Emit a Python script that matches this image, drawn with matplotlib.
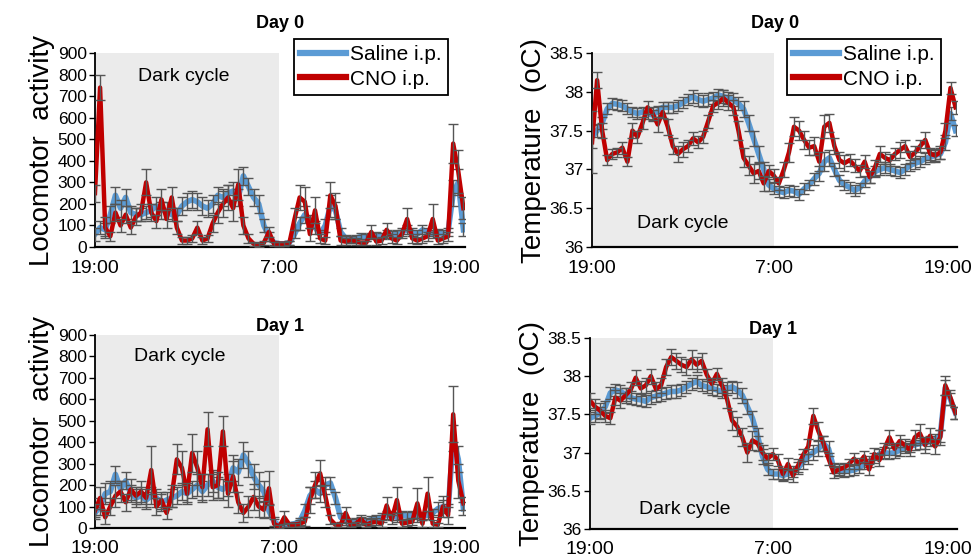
import numpy as np
import matplotlib
matplotlib.use("Agg")
import matplotlib.pyplot as plt

plt.rcParams['font.family'] = ['Liberation Sans', 'DejaVu Sans']

# time axis: 20-min bins from 19:00 to 19:00 next day (hours since 19:00)
hours = np.arange(73) / 3.0
tick_pos = [0, 12, 23.5]
tick_labels = ["19:00", "7:00", "19:00"]

# ---- Day 0 locomotor activity ----
loco0_cno = [250, 740, 90, 50, 160, 100, 150, 90, 140, 160, 300, 160,
             120, 220, 130, 230, 90, 30, 30, 40, 90, 30, 40, 110,
             160, 200, 230, 180, 290, 100, 40, 15, 10, 20, 70, 15,
             15, 15, 20, 130, 230, 210, 60, 170, 40, 30, 240, 190,
             30, 25, 35, 25, 20, 20, 70, 25, 30, 80, 40, 30,
             60, 130, 40, 30, 40, 50, 130, 30, 40, 50, 480, 350,
             180]
loco0_cno_err = [40, 60, 50, 20, 40, 30, 40, 30, 40, 40, 60, 40,
                 30, 50, 40, 50, 30, 15, 15, 15, 30, 15, 15, 40,
                 50, 60, 60, 60, 70, 40, 20, 10, 10, 10, 25, 10,
                 10, 10, 10, 50, 60, 70, 30, 60, 20, 15, 60, 60,
                 20, 15, 15, 15, 10, 10, 30, 15, 15, 30, 20, 15,
                 20, 50, 20, 15, 20, 20, 70, 15, 20, 20, 90, 100,
                 50]
loco0_sal = [60, 90, 80, 150, 240, 180, 230, 160, 150, 150, 160, 170,
             190, 170, 170, 150, 150, 190, 210, 220, 210, 190, 180, 200,
             240, 230, 250, 260, 230, 330, 280, 230, 200, 100, 50, 20,
             15, 15, 20, 60, 110, 150, 120, 90, 60, 100, 190, 170,
             70, 40, 35, 40, 50, 45, 50, 55, 50, 60, 55, 60,
             70, 80, 70, 60, 80, 70, 60, 65, 60, 70, 250, 300,
             80]
loco0_sal_err = [30, 30, 30, 40, 40, 40, 40, 30, 30, 30, 30, 30,
                 40, 40, 40, 30, 30, 40, 40, 40, 40, 40, 40, 40,
                 40, 40, 40, 40, 40, 40, 40, 40, 40, 30, 20, 10,
                 10, 10, 10, 20, 30, 40, 30, 30, 20, 30, 50, 40,
                 20, 15, 15, 15, 15, 15, 15, 15, 15, 20, 20, 20,
                 20, 20, 20, 20, 20, 20, 20, 20, 20, 20, 60, 60,
                 30]

# ---- Day 0 temperature ----
temp0_cno = [37.35, 38.15, 37.5, 37.12, 37.2, 37.22, 37.28, 37.1, 37.5, 37.42, 37.6, 37.8,
             37.72, 37.58, 37.74, 37.55, 37.3, 37.2, 37.26, 37.3, 37.4, 37.35, 37.42, 37.62,
             37.82, 37.86, 37.92, 37.86, 37.8, 37.5, 37.15, 37.05, 36.95, 36.98, 36.82, 36.98,
             36.92, 36.82, 37.0, 37.22, 37.55, 37.5, 37.38, 37.28, 37.3, 37.1, 37.55, 37.6,
             37.3, 37.12, 37.08, 37.12, 37.05, 36.98, 37.1, 36.9, 37.02, 37.2, 37.15, 37.12,
             37.2, 37.25, 37.3, 37.16, 37.22, 37.3, 37.38, 37.2, 37.18, 37.22, 37.5, 38.05,
             37.8]
temp0_cno_err = [0.4, 0.1, 0.1, 0.06, 0.06, 0.06, 0.08, 0.06, 0.1, 0.08, 0.08, 0.08,
                 0.08, 0.1, 0.08, 0.1, 0.1, 0.1, 0.1, 0.08, 0.08, 0.08, 0.08, 0.08,
                 0.08, 0.08, 0.1, 0.1, 0.1, 0.12, 0.12, 0.12, 0.12, 0.1, 0.1, 0.08,
                 0.08, 0.08, 0.1, 0.12, 0.12, 0.12, 0.12, 0.1, 0.12, 0.12, 0.15, 0.12,
                 0.1, 0.1, 0.1, 0.08, 0.08, 0.08, 0.08, 0.08, 0.1, 0.1, 0.08, 0.08,
                 0.08, 0.1, 0.08, 0.08, 0.08, 0.08, 0.1, 0.08, 0.08, 0.08, 0.1, 0.08,
                 0.08]
temp0_sal = [37.42, 37.5, 37.6, 37.78, 37.85, 37.84, 37.82, 37.78, 37.74, 37.72, 37.74, 37.72,
             37.7, 37.75, 37.8, 37.8, 37.8, 37.82, 37.86, 37.9, 37.94, 37.9, 37.88, 37.9,
             37.92, 37.96, 37.94, 37.92, 37.9, 37.85, 37.78, 37.6, 37.4, 37.2, 37.0, 36.8,
             36.75, 36.72, 36.7, 36.73, 36.72, 36.68, 36.75, 36.8, 36.88, 36.95, 37.1, 37.15,
             37.0, 36.86, 36.8, 36.77, 36.73, 36.76, 36.85, 36.9, 36.97, 37.0, 37.02, 37.0,
             36.98, 36.96, 37.0, 37.05, 37.08, 37.1, 37.14, 37.16, 37.18, 37.2, 37.35, 37.72,
             37.5]
temp0_sal_err = [0.15, 0.08, 0.08, 0.07, 0.07, 0.07, 0.07, 0.07, 0.07, 0.07, 0.07, 0.07,
                 0.07, 0.07, 0.07, 0.07, 0.07, 0.07, 0.07, 0.07, 0.08, 0.08, 0.08, 0.08,
                 0.08, 0.08, 0.08, 0.08, 0.08, 0.08, 0.1, 0.1, 0.1, 0.1, 0.1, 0.08,
                 0.07, 0.07, 0.07, 0.07, 0.07, 0.07, 0.07, 0.07, 0.08, 0.1, 0.12, 0.1,
                 0.08, 0.07, 0.07, 0.07, 0.07, 0.07, 0.07, 0.07, 0.07, 0.07, 0.07, 0.07,
                 0.07, 0.07, 0.07, 0.07, 0.07, 0.07, 0.07, 0.07, 0.07, 0.07, 0.1, 0.08,
                 0.07]

# ---- Day 1 locomotor activity ----
loco1_cno = [80, 140, 50, 100, 150, 170, 120, 180, 150, 170, 140, 270,
             100, 130, 70, 150, 320, 280, 160, 350, 280, 190, 460, 190,
             200, 450, 160, 240, 120, 70, 100, 145, 100, 85, 185, 20,
             5, 50, 15, 15, 20, 30, 130, 200, 255, 150, 40, 15,
             15, 70, 15, 20, 40, 15, 25, 30, 20, 105, 40, 130,
             20, 25, 30, 115, 20, 160, 20, 15, 100, 60, 530, 220,
             115]
loco1_cno_err = [30, 50, 30, 40, 50, 50, 40, 50, 40, 50, 40, 110,
                 40, 40, 30, 50, 70, 80, 50, 90, 80, 60, 80, 60,
                 60, 70, 60, 70, 50, 40, 50, 60, 50, 40, 80, 20,
                 10, 30, 10, 10, 15, 20, 60, 60, 60, 50, 20, 10,
                 10, 30, 10, 10, 20, 10, 15, 15, 15, 40, 20, 60,
                 15, 15, 15, 70, 15, 80, 15, 10, 50, 40, 130, 80,
                 30]
loco1_sal = [70, 100, 160, 170, 250, 180, 220, 160, 140, 150, 130, 150,
             140, 120, 130, 140, 150, 170, 160, 180, 200, 170, 200, 220,
             190, 180, 200, 280, 260, 340, 300, 240, 200, 170, 80, 30,
             10, 15, 15, 20, 30, 80, 150, 180, 160, 200, 210, 140,
             50, 30, 25, 30, 35, 30, 40, 45, 50, 60, 55, 50,
             60, 55, 60, 50, 55, 60, 70, 90, 100, 80, 420, 320,
             90]
loco1_sal_err = [30, 40, 50, 50, 40, 40, 40, 40, 40, 40, 40, 40,
                 40, 40, 40, 40, 40, 40, 40, 40, 50, 50, 50, 50,
                 50, 50, 50, 60, 60, 60, 60, 60, 60, 50, 30, 20,
                 10, 10, 10, 10, 15, 30, 40, 40, 40, 40, 30, 30,
                 20, 15, 15, 15, 15, 15, 15, 15, 20, 20, 20, 20,
                 20, 20, 20, 20, 20, 20, 20, 30, 30, 30, 60, 60,
                 30]

# ---- Day 1 temperature ----
temp1_cno = [37.68, 37.6, 37.55, 37.48, 37.45, 37.72, 37.68, 37.75, 37.82, 37.98, 37.84, 37.88,
             38.0, 37.83, 37.88, 38.12, 38.25, 38.2, 38.15, 38.12, 38.22, 38.15, 38.2, 38.02,
             37.9, 38.03, 37.88, 37.7, 37.42, 37.34, 37.2, 37.0, 37.16, 37.12, 37.0, 36.92,
             36.98, 36.9, 36.72, 36.85, 36.7, 36.83, 36.97, 37.08, 37.48, 37.28, 37.12, 36.92,
             36.74, 36.78, 36.8, 36.85, 36.92, 36.86, 36.95, 36.78, 36.98, 36.9, 37.05, 37.2,
             37.05, 37.15, 37.1, 37.03, 37.2, 37.25, 37.1, 37.22, 37.08, 37.2, 37.88, 37.72,
             37.52]
temp1_cno_err = [0.1, 0.1, 0.1, 0.08, 0.08, 0.1, 0.1, 0.1, 0.1, 0.1, 0.1, 0.1,
                 0.1, 0.1, 0.1, 0.1, 0.1, 0.1, 0.1, 0.1, 0.12, 0.1, 0.1, 0.08,
                 0.08, 0.08, 0.1, 0.12, 0.12, 0.12, 0.12, 0.12, 0.12, 0.1, 0.1, 0.08,
                 0.08, 0.08, 0.08, 0.08, 0.08, 0.08, 0.08, 0.1, 0.1, 0.12, 0.1, 0.08,
                 0.07, 0.07, 0.07, 0.07, 0.07, 0.07, 0.07, 0.07, 0.08, 0.08, 0.08, 0.1,
                 0.08, 0.08, 0.08, 0.08, 0.1, 0.12, 0.1, 0.1, 0.1, 0.1, 0.12, 0.1,
                 0.08]
temp1_sal = [37.45, 37.48, 37.52, 37.6, 37.78, 37.82, 37.8, 37.76, 37.72, 37.7, 37.69, 37.67,
             37.72, 37.74, 37.76, 37.78, 37.8, 37.8, 37.82, 37.86, 37.9, 37.93, 37.88, 37.86,
             37.84, 37.82, 37.8, 37.84, 37.86, 37.82, 37.75, 37.6, 37.45, 37.22, 36.95, 36.78,
             36.72, 36.72, 36.7, 36.72, 36.75, 36.8, 36.88, 36.95, 37.0, 37.05, 37.12, 37.05,
             36.8, 36.76, 36.75, 36.76, 36.77, 36.8, 36.85, 36.88, 36.93, 36.98, 37.0, 36.99,
             37.0, 37.03, 37.06, 37.08, 37.1, 37.12, 37.12, 37.15, 37.17, 37.22, 37.85, 37.7,
             37.52]
temp1_sal_err = [0.08, 0.08, 0.08, 0.08, 0.08, 0.08, 0.08, 0.08, 0.08, 0.08, 0.08, 0.08,
                 0.08, 0.08, 0.08, 0.08, 0.08, 0.08, 0.08, 0.08, 0.08, 0.08, 0.08, 0.08,
                 0.08, 0.08, 0.08, 0.08, 0.08, 0.1, 0.1, 0.1, 0.1, 0.1, 0.1, 0.08,
                 0.07, 0.07, 0.07, 0.07, 0.07, 0.08, 0.1, 0.1, 0.1, 0.1, 0.1, 0.1,
                 0.07, 0.07, 0.07, 0.07, 0.07, 0.07, 0.07, 0.07, 0.07, 0.07, 0.07, 0.07,
                 0.07, 0.07, 0.07, 0.07, 0.07, 0.07, 0.07, 0.07, 0.07, 0.08, 0.1, 0.08,
                 0.08]

BLUE = "#5b9bd5"
RED = "#c00000"
ERR = "#555555"
SHADE = "#ebebeb"

fig = plt.figure(figsize=(9.77, 5.59), dpi=100)

panels = [
    # rect, saline, saline err, cno, cno err, ylim, yticks, ylabel, title, dark text pos, legend
    ([0.0972, 0.5581, 0.3787, 0.347], loco0_sal, loco0_sal_err, loco0_cno, loco0_cno_err,
     (0, 900), np.arange(0, 901, 100), "Locomotor  activity", "Day 0", (5.8, 790), True),
    ([0.6060, 0.5581, 0.3736, 0.347], temp0_sal, temp0_sal_err, temp0_cno, temp0_cno_err,
     (36, 38.5), np.arange(36, 38.51, 0.5), "Temperature  (oC)", "Day 0", (6.0, 36.3), True),
    ([0.0972, 0.0555, 0.3787, 0.3453], loco1_sal, loco1_sal_err, loco1_cno, loco1_cno_err,
     (0, 900), np.arange(0, 901, 100), "Locomotor  activity", "Day 1", (5.5, 800), False),
    ([0.6039, 0.0537, 0.3756, 0.3417], temp1_sal, temp1_sal_err, temp1_cno, temp1_cno_err,
     (36, 38.5), np.arange(36, 38.51, 0.5), "Temperature  (oC)", "Day 1", (6.2, 36.25), False),
]

for rect, sal, sal_e, cno, cno_e, ylim, yt, ylab, title, dark_xy, show_leg in panels:
    ax = fig.add_axes(rect)
    ax.axvspan(0, 12, color=SHADE, zorder=0, lw=0)
    ax.plot(hours, sal, color=BLUE, lw=4.0, zorder=2, label="Saline i.p.")
    ax.errorbar(hours, sal, yerr=sal_e, fmt="none", ecolor=ERR, elinewidth=1,
                capsize=3.5, capthick=1, zorder=3)
    ax.plot(hours, cno, color=RED, lw=3.2, zorder=4, label="CNO i.p.")
    ax.errorbar(hours, cno, yerr=cno_e, fmt="none", ecolor=ERR, elinewidth=1,
                capsize=3.5, capthick=1, zorder=5)

    ax.set_xlim(0, 24.1)
    ax.set_ylim(*ylim)
    ax.set_yticks(yt)
    if ylim[0] == 36:
        ax.set_yticklabels(["36", "36.5", "37", "37.5", "38", "38.5"])
    ax.set_xticks(tick_pos)
    ax.set_xticklabels(tick_labels)
    ax.tick_params(axis="x", length=0, labelsize=14, pad=9)
    ax.tick_params(axis="y", direction="out", length=4, width=1, labelsize=12.5, pad=2)
    for s in ["top", "right"]:
        ax.spines[s].set_visible(False)
    ax.spines["left"].set_linewidth(1.3)
    ax.spines["bottom"].set_linewidth(1.6)

    ax.set_ylabel(ylab, fontsize=20, labelpad=2)
    ax.text(dark_xy[0], dark_xy[1], "Dark cycle", fontsize=14, ha="center", va="center", zorder=6)
    ax.set_title(title, fontsize=13, fontweight="bold", pad=18 if show_leg else 2)

    if show_leg:
        leg = ax.legend(loc="upper right", bbox_to_anchor=(0.955, 1.072), fontsize=15,
                        frameon=True, fancybox=False, edgecolor="black", framealpha=1,
                        handlelength=2.2, handletextpad=0.2, borderpad=0.3,
                        labelspacing=0.25, borderaxespad=0)
        leg.get_frame().set_linewidth(1.3)
        for h in leg.get_lines():
            h.set_linewidth(4.5)
        leg.set_zorder(10)

fig.savefig("out.png", dpi=100)
